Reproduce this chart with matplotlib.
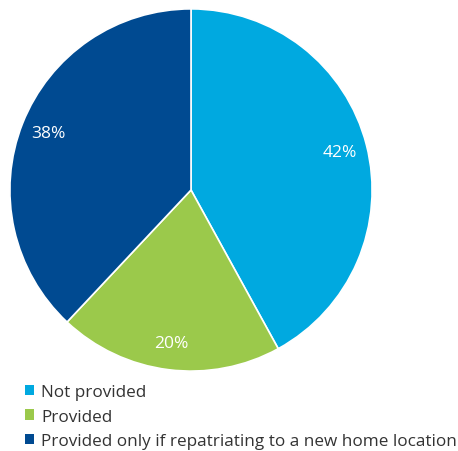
import matplotlib.pyplot as plt
from matplotlib.patches import Patch

plt.rcParams['font.family'] = ['Open Sans', 'DejaVu Sans']

labels = ['Not provided', 'Provided', 'Provided only if repatriating to a new home location']
values = [42, 20, 38]
colors = ['#00a9e0', '#9bc94b', '#004a91']

fig = plt.figure(figsize=(4.58, 4.52), dpi=100)
ax = fig.add_axes([9/458, 79/452, 364/458, 364/452])

wedges, texts, autotexts = ax.pie(values, colors=colors, startangle=90, counterclock=False,
                                  autopct='%d%%', pctdistance=0.85,
                                  wedgeprops=dict(edgecolor='white', linewidth=1.2))
for t in autotexts:
    t.set_color('white')
    t.set_fontsize(12.5)
ax.set_xlim(-1.005, 1.005)
ax.set_ylim(-1.005, 1.005)
ax.set_aspect('equal')

handles = [Patch(facecolor=c, edgecolor='none') for c in colors]
fig.legend(handles, labels, loc='upper left', bbox_to_anchor=(25/458, 1 - 385/452),
           frameon=False, fontsize=12.3, handlelength=0.55, handleheight=0.55,
           handletextpad=0.4, labelspacing=0.5, borderpad=0, borderaxespad=0,
           labelcolor='#333333')

fig.savefig('out.png', dpi=100)
